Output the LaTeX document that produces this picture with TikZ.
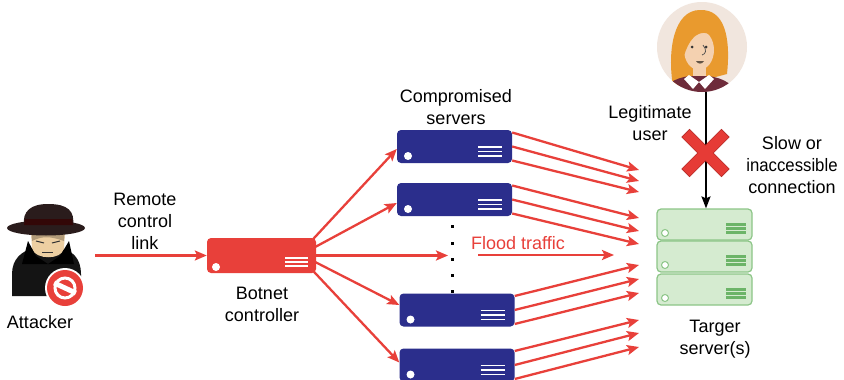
\documentclass[tikz,border=0pt]{standalone}
\usepackage{fontspec}
\setmainfont{Liberation Sans}
\usetikzlibrary{arrows.meta,calc}
\definecolor{floodred}{HTML}{E8403A}
\definecolor{botblue}{HTML}{2B2E8C}
\definecolor{tgfill}{HTML}{D5EBD0}
\definecolor{tgline}{HTML}{8CC587}
\definecolor{tgbar}{HTML}{6CB468}
\definecolor{userbg}{HTML}{F1E6DE}
\definecolor{hair}{HTML}{E99A2E}
\definecolor{skin}{HTML}{F4D1B0}
\definecolor{shirt}{HTML}{6E2B3A}
\definecolor{hatcol}{HTML}{2A1C1C}
\definecolor{skintwo}{HTML}{EDCFA2}
\definecolor{xred}{HTML}{E63B36}
\definecolor{xdark}{HTML}{B52A27}
\begin{document}
\begin{tikzpicture}[x=1pt,y=-1pt,
  lbl/.style={font=\fontsize{18}{22}\selectfont, align=center, inner sep=0pt},
  flood/.style={draw=floodred, line width=2.3pt,
    -{Stealth[length=12pt,width=10pt,inset=2.5pt]}},
  userlink/.style={draw=black, line width=1.8pt,
    -{Stealth[length=12pt,width=9pt,inset=2pt]}},
  srvbox/.style={fill=botblue, rounded corners=4pt, minimum width=115pt,
    minimum height=33pt, inner sep=0pt, path picture={
      \fill[white] ([xshift=11pt,yshift=7pt]path picture bounding box.south west) circle (4pt);
      \foreach \d in {7,11.5,16}
        \draw[white,line width=1.5pt]
          ([xshift=-34pt,yshift=\d pt]path picture bounding box.south east) -- ++(24pt,0pt);}},
  ctrlbox/.style={fill=floodred, rounded corners=4pt, minimum width=109pt,
    minimum height=35pt, inner sep=0pt, path picture={
      \fill[white] ([xshift=9pt,yshift=6pt]path picture bounding box.south west) circle (4pt);
      \foreach \d in {7,11,15}
        \draw[white,line width=1.5pt]
          ([xshift=-31pt,yshift=\d pt]path picture bounding box.south east) -- ++(23pt,0pt);}},
  tgbox/.style={fill=tgfill, draw=tgline, line width=1.2pt, rounded corners=4pt,
    minimum width=95pt, minimum height=31pt, inner sep=0pt, path picture={
      \draw[tgline, fill=white, line width=1pt]
        ([xshift=8pt,yshift=7pt]path picture bounding box.south west) circle (3.5pt);
      \foreach \d in {7.5,11.5,15.5}
        \draw[tgbar,line width=2.6pt]
          ([xshift=-26pt,yshift=\d pt]path picture bounding box.south east) -- ++(20pt,0pt);}},
]
\clip (0,0) rectangle (844,380);
\fill[white] (0,0) rectangle (844,380);

% ---------- attacker ----------
\node[minimum width=90pt, minimum height=100pt, inner sep=0pt] (att) at (50,250) {};
\fill[black!92] (12,296) -- (12,274) .. controls (12,259) and (22,251) .. (32,249)
  -- (62,249) .. controls (73,251) and (81,259) .. (81,274) -- (81,296) -- cycle;
\fill[skintwo] (31,229) -- (65,229) -- (64,249) .. controls (61,260) and (36,260)
  .. (32,249) -- cycle;
\fill[skintwo!75!black] (31,229) -- (65,229) -- (64,241) .. controls (50,236) and (42,236) .. (32,241) -- cycle;
\draw[black!80, line width=1pt] (36,241) -- (44,243) (52,243) -- (60,241);
\draw[black!80, line width=1pt] (42,252) -- (53,252);
\fill[black] (22,264) -- (28,241) -- (36,256) -- (48,264) -- cycle;
\fill[black] (74,264) -- (69,241) -- (60,256) -- (48,264) -- cycle;
\fill[hatcol] (24,226) .. controls (22,211) and (31,204) .. (48,204)
  .. controls (68,204) and (75,211) .. (73,226) -- cycle;
\fill[hatcol] (46,228) ellipse (39 and 7.5);
\fill[hatcol!60!red!40!black] (25,219) -- (72,219) -- (73,225) -- (24,225) -- cycle;
\fill[white] (65,288) circle (20);
\fill[floodred] (65,288) circle (18);
\draw[white, line width=3pt] (65,288) circle (10);
\fill[white, rotate around={-25:(65,288)}] (53,285.5) rectangle (77,290.5);
\node[lbl] (attlbl) at (40,322) {Attacker};

% ---------- botnet controller ----------
\node[ctrlbox] (c) at (261.5,255.5) {};
\node[lbl] (clbl) at (262,304) {Botnet\\controller};
\node[lbl] (rlink) at (145,221.5) {Remote\\control\\link};
\draw[flood] (c.west -| att.east) -- (c.west);

% ---------- compromised servers ----------
\node[srvbox] (s1) at (454.5,146.5) {};
\node[srvbox] (s2) at (454.5,199.5) {};
\node[srvbox] (s3) at (457,310) {};
\node[srvbox] (s4) at (457,365) {};
\node[lbl] (slbl) at (456,107) {Compromised\\servers};
\foreach \yy in {226,243,259,275,291}
  \fill[black] (450.5,\yy-1.5) rectangle ++(3.2,3.2);

\coordinate (mid) at (448,255.5);
\draw[flood] ([xshift=-3pt,yshift=16.5pt]c.east) -- ([yshift=-2.5pt]s1.west);
\draw[flood] ([xshift=-1pt,yshift=8.5pt]c.east) -- ([yshift=-3.5pt]s2.west);
\draw[flood] (c.east) -- (mid);
\draw[flood] ([xshift=-1pt,yshift=-6.5pt]c.east) -- ([yshift=5pt]s3.west);
\draw[flood] ([xshift=-3pt,yshift=-15.5pt]c.east) -- ([yshift=2.5pt]s4.west);

% ---------- target servers ----------
\node[tgbox] (t1) at (704.5,224.5) {};
\node[tgbox] (t2) at (704.5,256.5) {};
\node[tgbox] (t3) at (704.5,289.5) {};
\node[lbl] (tlbl) at (715,339) {Targer\\server(s)};

% flood arrows towards the targets
\foreach \s/\a/\b/\c in {s1/170/181/192, s2/218/231/244, s3/265/279/293, s4/320/333/347}{
  \coordinate (\s-a) at (639,\a);
  \coordinate (\s-b) at (639,\b);
  \coordinate (\s-c) at (639,\c);
  \draw[flood] ([yshift=14pt]\s.east) -- (\s-a);
  \draw[flood] (\s.east) -- (\s-b);
  \draw[flood] ([yshift=-14pt]\s.east) -- (\s-c);
}
\coordinate (fl0) at (478,255);
\coordinate (fl1) at (614,255);
\draw[flood] (fl0) -- (fl1);
\node[lbl, text=floodred] (fltxt) at (518,243) {Flood traffic};

% ---------- legitimate user ----------
\node[circle, fill=userbg, minimum size=90pt, inner sep=0pt] (user) at (702,47) {};
\begin{scope}
  \clip (702,47) circle (45);
  \fill[hair] (673,86) .. controls (667,50) and (674,10) .. (700,10)
    .. controls (724,9) and (731,36) .. (727,74) -- (712,78) -- (690,86) -- cycle;
  \fill[skin] (693,60) rectangle (706,80);
  \fill[skin] (699,50) ellipse (15 and 20);
  \fill[shirt] (660,100) .. controls (662,85) and (674,78) .. (690,76) -- (708,76)
    .. controls (724,78) and (736,85) .. (740,100) -- cycle;
  \fill[white] (689,75) -- (699,82) -- (693,89) -- (684,79) -- cycle;
  \fill[white] (709,75) -- (699,82) -- (705,89) -- (714,79) -- cycle;
  \fill[hair] (684,56) .. controls (682,30) and (692,22) .. (701,22)
    .. controls (710,22) and (716,29) .. (715,40)
    .. controls (708,30) and (700,32) .. (694,37)
    .. controls (689,42) and (686,49) .. (684,56) -- cycle;
  \fill[black!80] (692,47) circle (1.5) (706,47) circle (1.5);
  \draw[black!70, line width=0.7pt] (703,45) .. controls (707,50) and (706,54) .. (702,55);
  \fill[black!60!skin] (696,61) .. controls (698,64.5) and (702,64.5) .. (704,61) -- cycle;
\end{scope}
\node[lbl] (ulbl) at (650,123) {Legitimate\\user};
\draw[userlink] ([xshift=4pt]user.south) -- ([xshift=1.5pt]t1.north);

% blocked connection mark
\begin{scope}[shift={(705.5,153)}, rotate=45]
  \filldraw[fill=xred, draw=xdark, line width=0.6pt]
    (5.5,5.5) -- (28,5.5) -- (28,-5.5) -- (5.5,-5.5) -- (5.5,-28) -- (-5.5,-28)
    -- (-5.5,-5.5) -- (-28,-5.5) -- (-28,5.5) -- (-5.5,5.5) -- (-5.5,28) -- (5.5,28) -- cycle;
\end{scope}
\node[lbl] (slow) at (792,165)
  {Slow or\\\scalebox{0.93}[1]{inaccessible}\\connection};
\end{tikzpicture}
\end{document}
